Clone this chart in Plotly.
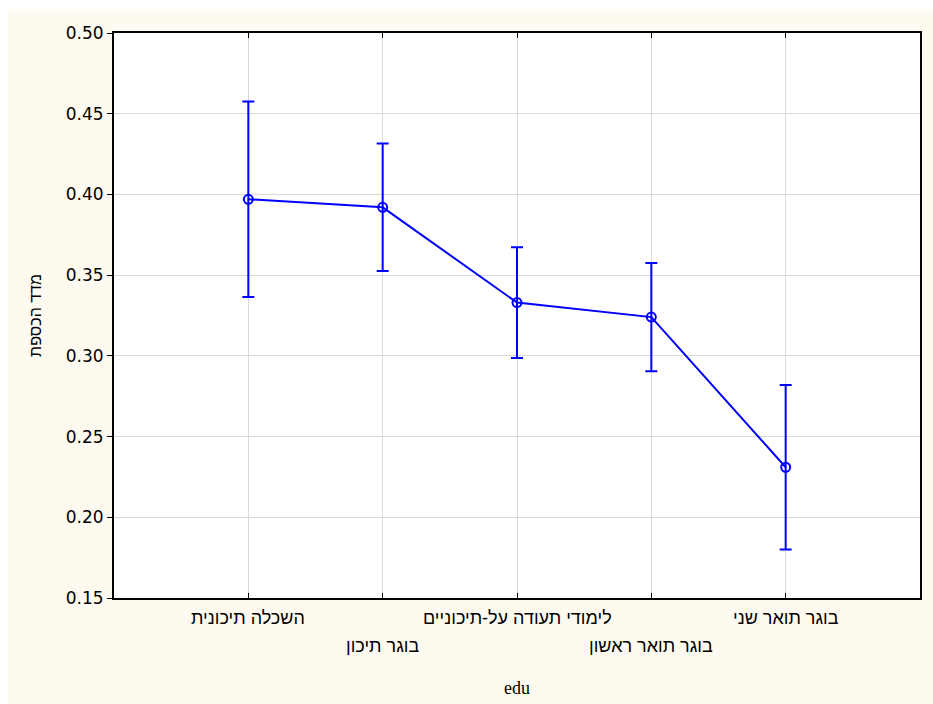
import plotly.graph_objects as go

categories = ["השכלה תיכונית", "בוגר תיכון", "לימודי תעודה על-תיכוניים", "בוגר תואר ראשון", "בוגר תואר שני"]
means = [0.397, 0.392, 0.333, 0.324, 0.231]
ci_half = [0.0605, 0.0395, 0.0343, 0.0335, 0.051]
y_ticks = [0.15, 0.20, 0.25, 0.30, 0.35, 0.40, 0.45, 0.50]
x_title = "edu"
y_title = "מדד הכספת"

BLUE = "#0000FF"
CREAM = "#FFFAF0"
FONT = "Liberation Sans, Arial, sans-serif"
NUMFONT = "DejaVu Sans, Verdana, sans-serif"

xs = list(range(len(categories)))

fig = go.Figure()
fig.add_trace(go.Scatter(
    x=xs, y=means, mode="lines+markers",
    line=dict(color=BLUE, width=2),
    marker=dict(symbol="circle-open", size=9, color=BLUE, line=dict(width=2, color=BLUE)),
    error_y=dict(type="data", array=ci_half, visible=True, color=BLUE, thickness=2, width=6),
    showlegend=False, hoverinfo="skip",
))

annotations = []
for i, c in enumerate(categories):
    annotations.append(dict(
        x=i, xref="x", y=0, yref="paper", text=c, showarrow=False,
        yanchor="top", xanchor="center", yshift=-8 if i % 2 == 0 else -36,
        font=dict(family=FONT, size=18, color="#000000"),
    ))
annotations.append(dict(
    x=0.5, xref="paper", y=0, yref="paper", text=x_title, showarrow=False,
    yanchor="middle", xanchor="center", yshift=-90,
    font=dict(family="Liberation Serif, Times New Roman, serif", size=18, color="#000000"),
))

fig.update_layout(
    width=933, height=704,
    margin=dict(l=114, r=11, t=33, b=106),
    paper_bgcolor=CREAM, plot_bgcolor="#FFFFFF",
    annotations=annotations,
    shapes=[
        dict(type="rect", xref="paper", yref="paper", x0=-0.2, x1=1.1, y0=(598 - 9) / 565, y1=1.2,
             fillcolor="#FFFFFF", line=dict(width=0), layer="above"),
        dict(type="rect", xref="paper", yref="paper", x0=-0.2, x1=(8 - 114) / 808, y0=-0.3, y1=1.2,
             fillcolor="#FFFFFF", line=dict(width=0), layer="above"),
    ],
    xaxis=dict(
        range=[-1, 5], tickvals=xs, showticklabels=False,
        showgrid=True, gridcolor="#D9D9D9", gridwidth=1,
        showline=True, linecolor="#000000", linewidth=2, mirror="ticks",
        ticks="inside", ticklen=5, tickcolor="#000000", tickwidth=1, zeroline=False,
    ),
    yaxis=dict(
        range=[0.15, 0.50], tickvals=y_ticks, tickformat=".2f",
        showgrid=True, gridcolor="#D9D9D9", gridwidth=1,
        showline=True, linecolor="#000000", linewidth=2, mirror=True,
        ticks="outside", ticklen=5, tickcolor="#000000", tickwidth=1, zeroline=False,
        tickfont=dict(family=NUMFONT, size=17, color="#000000"),
        title=dict(text=y_title, font=dict(family=FONT, size=16, color="#000000"), standoff=20),
    ),
    yaxis2=dict(
        range=[0.15, 0.50], tickvals=y_ticks, overlaying="y", side="right",
        showticklabels=False, showgrid=False, zeroline=False,
        ticks="inside", ticklen=5, tickcolor="#000000", tickwidth=1, showline=False,
    ),
)

fig.write_html("out.html")
